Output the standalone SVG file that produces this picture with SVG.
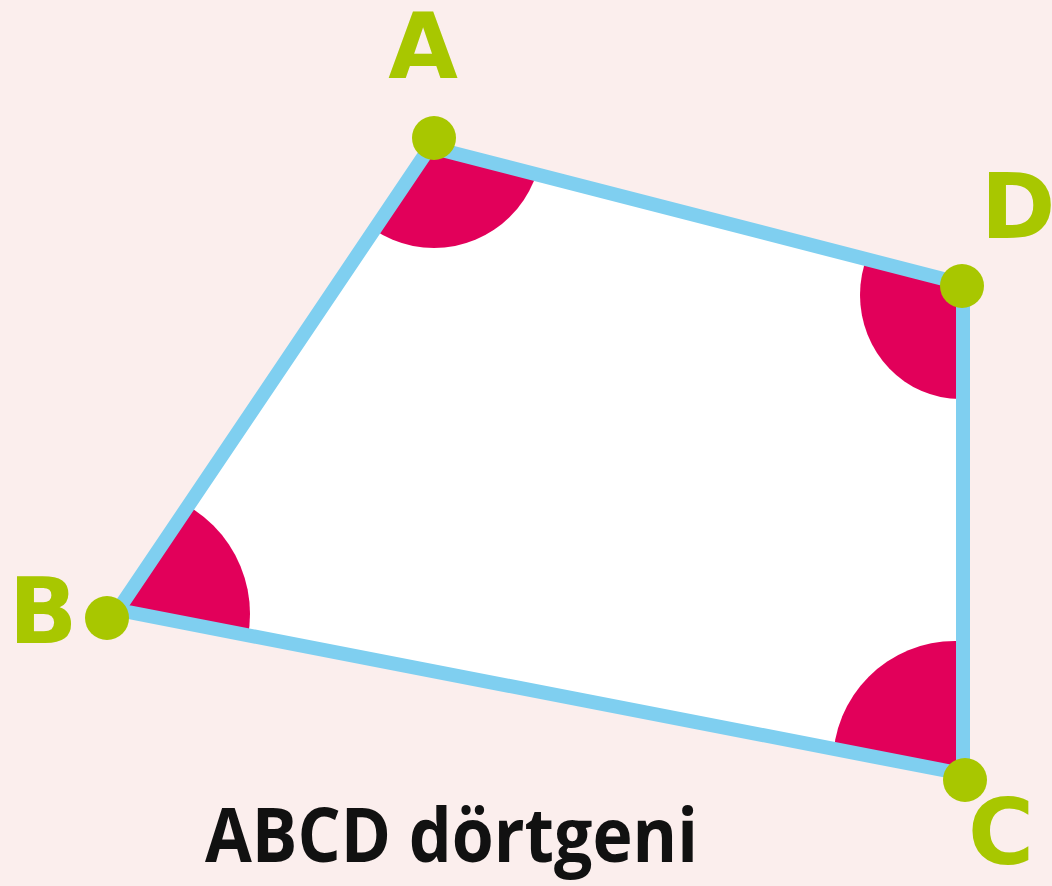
<svg xmlns="http://www.w3.org/2000/svg" width="1052" height="886" viewBox="0 0 1052 886">
  <style>
    .edge { fill: none; stroke: #7fcff0; stroke-width: 14; stroke-linejoin: round; }
    .angle { fill: #e2005a; }
    .dot { fill: #a8c700; }
    .lbl { fill: #a8c700; font-family: "DejaVu Sans", sans-serif; font-weight: bold; font-size: 90px; text-anchor: middle; }
    .title { fill: #111; font-family: "Open Sans", "Noto Sans", sans-serif; font-weight: 700; font-size: 76px; }
  </style>
  <defs>
    <clipPath id="quad">
      <polygon points="430,147 963,284 963,774 118,610"/>
    </clipPath>
  </defs>
  <rect x="0" y="0" width="1052" height="886" fill="#fbeeed"/>
  <g id="shape">
    <polygon points="430,147 963,284 963,774 118,610" fill="#ffffff"/>
    <g clip-path="url(#quad)">
      <circle class="angle" cx="434" cy="140" r="108"/>
      <ellipse class="angle" cx="960" cy="295" rx="100" ry="104"/>
      <circle class="angle" cx="125" cy="614" r="125"/>
      <circle class="angle" cx="955" cy="763" r="122"/>
    </g>
  </g>
  <g id="connectors">
    <polygon class="edge" points="430,147 963,284 963,774 118,610"/>
  </g>
  <g id="A"><circle class="dot" cx="434" cy="138" r="22"/><text class="lbl" x="423" y="78">A</text></g>
  <g id="D"><circle class="dot" cx="962" cy="286" r="22"/><text class="lbl" x="1018" y="238">D</text></g>
  <g id="C"><circle class="dot" cx="965" cy="780" r="22"/><text class="lbl" x="1001" y="864">C</text></g>
  <g id="B"><circle class="dot" cx="107" cy="618" r="22"/><text class="lbl" x="43" y="643">B</text></g>
  <g id="caption"><text class="title" x="205" y="862" textLength="493" lengthAdjust="spacingAndGlyphs">ABCD dörtgeni</text></g>
</svg>
